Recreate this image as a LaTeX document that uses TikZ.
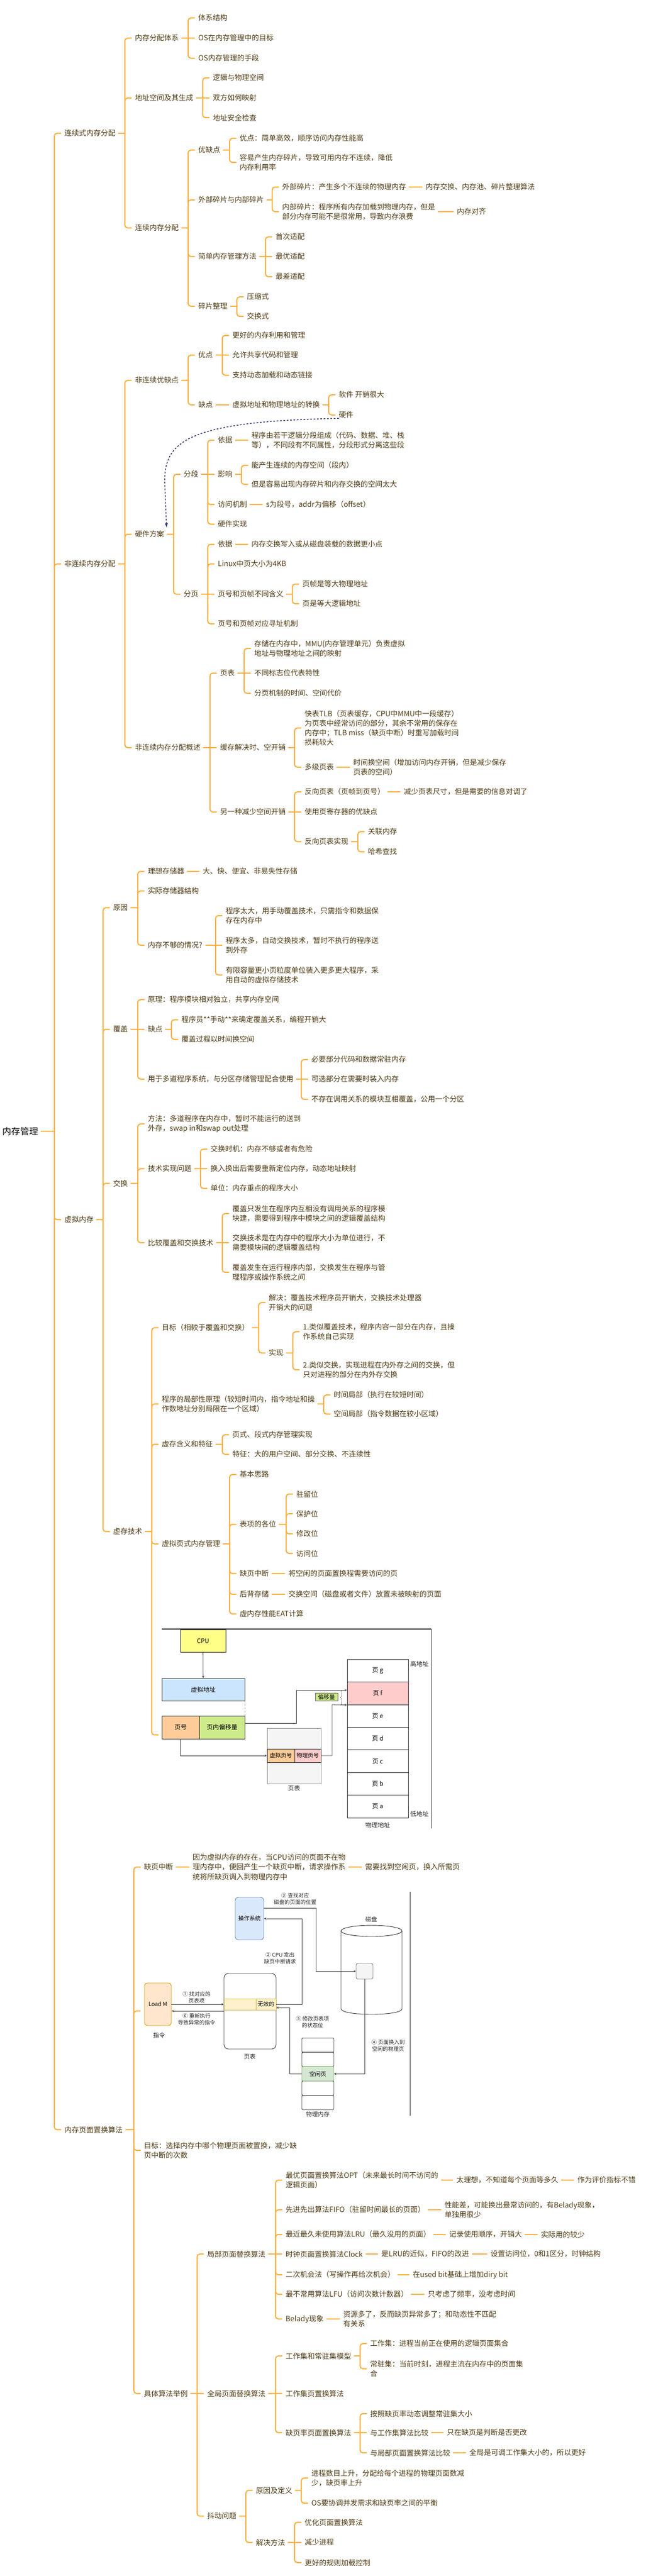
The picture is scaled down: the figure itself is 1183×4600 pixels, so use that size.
\documentclass[tikz,border=0pt]{standalone}
\usepackage{fontspec}
\setmainfont{Noto Sans CJK SC}
\usepackage{tikz}
\usetikzlibrary{calc}
\usetikzlibrary{arrows}
\usetikzlibrary{decorations.pathreplacing}
\definecolor{branch}{RGB}{252, 176, 66}
\definecolor{ink}{RGB}{77, 58, 18}
\definecolor{navy}{RGB}{45, 55, 110}
\definecolor{cpuyellow}{RGB}{255, 255, 136}
\definecolor{addrblue}{RGB}{204, 229, 255}
\definecolor{peach}{RGB}{255, 204, 153}
\definecolor{lime}{RGB}{205, 235, 139}
\definecolor{rose}{RGB}{255, 204, 204}
\definecolor{paper}{RGB}{245, 245, 245}
\definecolor{osblue}{RGB}{218, 232, 252}
\definecolor{osedge}{RGB}{108, 142, 191}
\definecolor{loadfill}{RGB}{255, 230, 204}
\definecolor{loadedge}{RGB}{215, 155, 0}
\definecolor{rowfill}{RGB}{255, 242, 204}
\definecolor{rowedge}{RGB}{214, 182, 86}
\definecolor{freefill}{RGB}{213, 232, 212}
\definecolor{freeedge}{RGB}{130, 179, 102}
\newcommand{\branchto}[2]{%
  \draw[link] ($(#1.east)+(5,0)$) -- ($(#1.east -| #2.west)+(-18,0)$);%
  \draw[link] ($(#1.east -| #2.west)+(-18,0)$) |- ($(#2.west)+(-6,0)$);}
\newcommand{\straightto}[2]{%
  \draw[link] ($(#1.east)+(5,0)$) -- ($(#2.west)+(-6,0)$);}

\begin{document}
\begin{tikzpicture}[x=1pt, y=-1pt,
    topic/.style    ={anchor=west, inner sep=0pt, align=left, text=ink, font=\fontsize{13}{17.3}\selectfont},
    rootnode/.style ={anchor=west, inner sep=0pt, text=black, font=\fontsize{16}{20}\selectfont},
    link/.style     ={draw=branch, line width=2pt, rounded corners=5pt},
    hook/.style     ={inner sep=0pt, minimum size=0pt},
    cell/.style     ={draw=black!80, line width=0.9pt, inner sep=0pt, text=black, font=\fontsize{11}{13}\selectfont},
    smallcell/.style={cell, font=\fontsize{10}{12}\selectfont},
    figtext/.style  ={inner sep=0pt, align=center, text=black!85, font=\fontsize{9.5}{12}\selectfont},
    wire/.style     ={draw=black!75, line width=0.8pt, -stealth},
    hwlink/.style   ={draw=navy, dashed, line width=1.5pt, -latex}]
\fill[white] (0,0) rectangle (1183,4600);
\useasboundingbox (0,0) rectangle (1183,4600);

\node[rootnode] (root) at (  4,2020) {内存管理};
\node[topic]    (c)    at (115, 238) {连续式内存分配};
\node[topic]    (n)    at (115,1007) {非连续内存分配};
\node[topic]    (v)    at (115,2178) {虚拟内存};
\node[topic]    (r)    at (115,3803) {内存页面置换算法};

% continuous allocation
\node[topic] (c1)    at (241,  68) {内存分配体系};
\node[topic] (c11)   at (354,  32) {体系结构};
\node[topic] (c12)   at (354,  68) {OS在内存管理中的目标};
\node[topic] (c13)   at (354, 104) {OS内存管理的手段};
\node[topic] (c2)    at (241, 175) {地址空间及其生成};
\node[topic] (c21)   at (380, 139) {逻辑与物理空间};
\node[topic] (c22)   at (380, 175) {双方如何映射};
\node[topic] (c23)   at (380, 210) {地址安全检查};
\node[topic] (c3)    at (241, 407) {连续内存分配};
\node[topic] (c31)   at (354, 268) {优缺点};
\node[topic] (c311)  at (428, 247) {优点：简单高效，顺序访问内存性能高};
\node[topic] (c312)  at (428, 290) {容易产生内存碎片，导致可用内存不连续，降低\\内存利用率};
\node[topic] (c32)   at (354, 357) {外部碎片与内部碎片};
\node[topic] (c321)  at (504, 334) {外部碎片：产生多个不连续的物理内存};
\node[topic] (c3211) at (760, 334) {内存交换、内存池、碎片整理算法};
\node[topic] (c322)  at (504, 378) {内部碎片：程序所有内存加载到物理内存，但是\\部分内存可能不是很常用，导致内存浪费};
\node[topic] (c3221) at (816, 378) {内存对齐};
\node[topic] (c33)   at (354, 458) {简单内存管理方法};
\node[topic] (c331)  at (492, 423) {首次适配};
\node[topic] (c332)  at (492, 458) {最优适配};
\node[topic] (c333)  at (492, 494) {最差适配};
\node[topic] (c34)   at (354, 547) {碎片整理};
\node[topic] (c341)  at (441, 530) {压缩式};
\node[topic] (c342)  at (441, 565) {交换式};

% non-continuous allocation
\node[topic] (n1)    at (241, 679) {非连续优缺点};
\node[topic] (n11)   at (354, 634) {优点};
\node[topic] (n111)  at (415, 599) {更好的内存利用和管理};
\node[topic] (n112)  at (415, 634) {允许共享代码和管理};
\node[topic] (n113)  at (415, 670) {支持动态加载和动态链接};
\node[topic] (n12)   at (354, 723) {缺点};
\node[topic] (n121)  at (415, 723) {虚拟地址和物理地址的转换};
\node[topic] (n1211) at (605, 705) {软件 开销很大};
\node[topic] (n1212) at (605, 741) {硬件};
\node[topic] (n2)    at (241, 954) {硬件方案};
\node[topic] (n21)   at (328, 847) {分段};
\node[topic] (n211)  at (389, 786) {依据};
\node[topic] (n2111) at (449, 786) {程序由若干逻辑分段组成（代码、数据、堆、栈\\等），不同段有不同属性，分段形式分离这些段};
\node[topic] (n212)  at (389, 847) {影响};
\node[topic] (n2121) at (449, 831) {能产生连续的内存空间（段内）};
\node[topic] (n2122) at (449, 865) {但是容易出现内存碎片和内存交换的空间太大};
\node[topic] (n213)  at (389, 901) {访问机制};
\node[topic] (n2131) at (475, 901) {s为段号，addr为偏移（offset）};
\node[topic] (n214)  at (389, 936) {硬件实现};
\node[topic] (n22)   at (328,1061) {分页};
\node[topic] (n221)  at (389, 972) {依据};
\node[topic] (n2211) at (449, 972) {内存交换写入或从磁盘装载的数据更小点};
\node[topic] (n222)  at (389,1007) {Linux中页大小为4KB};
\node[topic] (n223)  at (389,1061) {页号和页帧不同含义};
\node[topic] (n2231) at (540,1043) {页帧是等大物理地址};
\node[topic] (n2232) at (540,1078) {页是等大逻辑地址};
\node[topic] (n224)  at (389,1114) {页号和页帧对应寻址机制};
\node[topic] (n3)    at (241,1335) {非连续内存分配概述};
\node[topic] (n31)   at (393,1202) {页表};
\node[topic] (n311)  at (454,1158) {存储在内存中，MMU(内存管理单元）负责虚拟\\地址与物理地址之间的映射};
\node[topic] (n312)  at (454,1202) {不同标志位代表特性};
\node[topic] (n313)  at (454,1238) {分页机制的时间、空间代价};
\node[topic] (n32)   at (393,1335) {缓存解决时、空开销};
\node[topic] (n321)  at (544,1300) {快表TLB（页表缓存，CPU中MMU中一段缓存）\\为页表中经常访问的部分，其余不常用的保存在\\内存中；TLB miss（缺页中断）时重写加载时间\\损耗较大};
\node[topic] (n322)  at (544,1370) {多级页表};
\node[topic] (n3221) at (631,1370) {时间换空间（增加访问内存开销，但是减少保存\\页表的空间）};
\node[topic] (n33)   at (393,1450) {另一种减少空间开销};
\node[topic] (n331)  at (544,1414) {反向页表（页帧到页号）};
\node[topic] (n3311) at (721,1414) {减少页表尺寸，但是需要的信息对调了};
\node[topic] (n332)  at (544,1450) {使用页寄存器的优缺点};
\node[topic] (n333)  at (544,1503) {反向页表实现};
\node[topic] (n3331) at (657,1485) {关联内存};
\node[topic] (n3332) at (657,1521) {哈希查找};

% virtual memory
\node[topic] (v1)    at (202,1621) {原因};
\node[topic] (v11)   at (264,1556) {理想存储器};
\node[topic] (v111)  at (362,1556) {大、快、便宜、非易失性存储};
\node[topic] (v12)   at (264,1591) {实际存储器结构};
\node[topic] (v13)   at (264,1688) {内存不够的情况?};
\node[topic] (v131)  at (403,1635) {程序太大，用手动覆盖技术，只需指令和数据保\\存在内存中};
\node[topic] (v132)  at (403,1688) {程序太多，自动交换技术，暂时不执行的程序送\\到外存};
\node[topic] (v133)  at (403,1741) {有限容量更小页粒度单位装入更多更大程序，采\\用自动的虚拟存储技术};
\node[topic] (v2)    at (202,1838) {覆盖};
\node[topic] (v21)   at (264,1785) {原理：程序模块相对独立，共享内存空间};
\node[topic] (v22)   at (264,1838) {缺点};
\node[topic] (v221)  at (324,1821) {程序员**手动**来确定覆盖关系，编程开销大};
\node[topic] (v222)  at (324,1856) {覆盖过程以时间换空间};
\node[topic] (v23)   at (264,1927) {用于多道程序系统，与分区存储管理配合使用};
\node[topic] (v231)  at (556,1892) {必要部分代码和数据常驻内存};
\node[topic] (v232)  at (556,1927) {可选部分在需要时装入内存};
\node[topic] (v233)  at (556,1963) {不存在调用关系的模块互相覆盖，公用一个分区};
\node[topic] (v3)    at (202,2113) {交换};
\node[topic] (v31)   at (264,2007) {方法：多道程序在内存中，暂时不能运行的送到\\外存，swap in和swap out处理};
\node[topic] (v32)   at (264,2087) {技术实现问题};
\node[topic] (v321)  at (376,2052) {交换时机：内存不够或者有危险};
\node[topic] (v322)  at (376,2087) {换入换出后需要重新定位内存，动态地址映射};
\node[topic] (v323)  at (376,2122) {单位：内存重点的程序大小};
\node[topic] (v33)   at (264,2219) {比较覆盖和交换技术};
\node[topic] (v331)  at (415,2167) {覆盖只发生在程序内互相没有调用关系的程序模\\块建，需要得到程序中模块之间的逻辑覆盖结构};
\node[topic] (v332)  at (415,2219) {交换技术是在内存中的程序大小为单位进行，不\\需要模块间的逻辑覆盖结构};
\node[topic] (v333)  at (415,2272) {覆盖发生在运行程序内部，交换发生在程序与管\\理程序或操作系统之间};
\node[topic] (v4)    at (202,2735) {虚存技术};
\node[topic] (v41)   at (289,2371) {目标（相较于覆盖和交换）};
\node[topic] (v411)  at (480,2326) {解决：覆盖技术程序员开销大，交换技术处理器\\开销大的问题};
\node[topic] (v412)  at (480,2416) {实现};
\node[topic] (v4121) at (541,2378) {1.类似覆盖技术，程序内容一部分在内存，且操\\作系统自己实现};
\node[topic] (v4122) at (541,2446) {2.类似交换，实现进程在内外存之间的交换，但\\只对进程的部分在内外存交换};
\node[topic] (v42)   at (289,2507) {程序的局部性原理（较短时间内，指令地址和操\\作数地址分别局限在一个区域）};
\node[topic] (v421)  at (596,2491) {时间局部（执行在较短时间）};
\node[topic] (v422)  at (596,2525) {空间局部（指令数据在较小区域）};
\node[topic] (v43)   at (289,2579) {虚存含义和特征};
\node[topic] (v431)  at (415,2562) {页式、段式内存管理实现};
\node[topic] (v432)  at (415,2597) {特征：大的用户空间、部分交换、不连续性};
\node[topic] (v44)   at (289,2757) {虚拟页式内存管理};
\node[topic] (v441)  at (428,2633) {基本思路};
\node[topic] (v442)  at (428,2722) {表项的各位};
\node[topic] (v4421) at (529,2668) {驻留位};
\node[topic] (v4422) at (529,2703) {保护位};
\node[topic] (v4423) at (529,2739) {修改位};
\node[topic] (v4424) at (529,2774) {访问位};
\node[topic] (v443)  at (428,2810) {缺页中断};
\node[topic] (v4431) at (515,2810) {将空闲的页面置换程需要访问的页};
\node[topic] (v444)  at (428,2847) {后背存储};
\node[topic] (v4441) at (515,2847) {交换空间（磁盘或者文件）放置未被映射的页面};
\node[topic] (v445)  at (428,2882) {虚内存性能EAT计算};
\node[hook]  (pagefig) at (289,3098) {};

% page replacement
\node[topic] (r1)     at (257,3334) {缺页中断};
\node[topic] (r11)    at (344,3334) {因为虚拟内存的存在，当CPU访问的页面不在物\\理内存中，便回产生一个缺页中断，请求操作系\\统将所缺页调入到物理内存中};
\node[topic] (r111)   at (652,3334) {需要找到空闲页，换入所需页};
\node[hook]  (faultfig) at (257,3591) {};
\node[topic] (r2)     at (257,3840) {目标：选择内存中哪个物理页面被置换，减少缺\\页中断的次数};
\node[topic] (r3)     at (257,4274) {具体算法举例};
\node[topic] (r31)    at (370,4025) {局部页面替换算法};
\node[topic] (r311)   at (510,3893) {最优页面置换算法OPT（未来最长时间不访问的\\逻辑页面）};
\node[topic] (r3111)  at (815,3893) {太理想，不知道每个页面等多久};
\node[topic] (r31111) at (1031,3893) {作为评价指标不错};
\node[topic] (r312)   at (510,3946) {先进先出算法FIFO（驻留时间最长的页面）};
\node[topic] (r3121)  at (794,3946) {性能差，可能换出最常访问的，有Belady现象，\\单独用很少};
\node[topic] (r313)   at (510,3990) {最近最久未使用算法LRU（最久没用的页面）};
\node[topic] (r3131)  at (802,3990) {记录使用顺序，开销大};
\node[topic] (r31311) at (966,3990) {实际用的较少};
\node[topic] (r314)   at (510,4025) {时钟页面置换算法Clock};
\node[topic] (r3141)  at (681,4025) {是LRU的近似，FIFO的改进};
\node[topic] (r31411) at (876,4025) {设置访问位，0和1区分，时钟结构};
\node[topic] (r315)   at (510,4062) {二次机会法（写操作再给次机会）};
\node[topic] (r3151)  at (737,4062) {在used bit基础上增加diry bit};
\node[topic] (r316)   at (510,4097) {最不常用算法LFU（访问次数计数器）};
\node[topic] (r3161)  at (764,4097) {只考虑了频率，没考虑时间};
\node[topic] (r317)   at (510,4141) {Belady现象};
\node[topic] (r3171)  at (613,4141) {资源多了，反而缺页异常多了；和动态性不匹配\\有关系};
\node[topic] (r32)    at (370,4274) {全局页面替换算法};
\node[topic] (r321)   at (510,4207) {工作集和常驻集模型};
\node[topic] (r3211)  at (661,4185) {工作集：进程当前正在使用的逻辑页面集合};
\node[topic] (r3212)  at (661,4230) {常驻集：当前时刻，进程主流在内存中的页面集\\合};
\node[topic] (r322)   at (510,4274) {工作集页置换算法};
\node[topic] (r323)   at (510,4344) {缺页率页面置换算法};
\node[topic] (r3231)  at (661,4310) {按照缺页率动态调整常驻集大小};
\node[topic] (r3232)  at (661,4344) {与工作集算法比较};
\node[topic] (r32321) at (798,4344) {只在缺页是判断是否更改};
\node[topic] (r3233)  at (661,4380) {与局部页面置换算法比较};
\node[topic] (r32331) at (838,4380) {全局是可调工作集大小的，所以更好};
\node[topic] (r33)    at (370,4493) {抖动问题};
\node[topic] (r331)   at (457,4447) {原因及定义};
\node[topic] (r3311)  at (556,4425) {进程数目上升，分配给每个进程的物理页面数减\\少，缺页率上升};
\node[topic] (r3312)  at (556,4470) {OS要协调并发需求和缺页率之间的平衡};
\node[topic] (r332)   at (457,4540) {解决方法};
\node[topic] (r3321)  at (544,4504) {优化页面置换算法};
\node[topic] (r3322)  at (544,4540) {减少进程};
\node[topic] (r3323)  at (544,4576) {更好的规则加载控制};

% branches
\foreach \p/\c in {root/c, root/n, root/v, root/r,
                   c/c1, c/c2, c/c3, c1/c11, c1/c13, c2/c21, c2/c23,
                   c3/c31, c3/c32, c3/c33, c3/c34, c31/c311, c31/c312, c32/c321, c32/c322,
                   c33/c331, c33/c333, c34/c341, c34/c342,
                   n/n1, n/n2, n/n3, n1/n11, n1/n12, n11/n111, n11/n113, n121/n1211, n121/n1212,
                   n2/n21, n2/n22, n21/n211, n21/n213, n21/n214, n212/n2121, n212/n2122,
                   n22/n221, n22/n222, n22/n224, n223/n2231, n223/n2232,
                   n3/n31, n3/n33, n31/n311, n31/n313, n32/n321, n32/n322, n33/n331, n33/n333,
                   n333/n3331, n333/n3332,
                   v/v1, v/v2, v/v3, v/v4, v1/v11, v1/v12, v1/v13, v13/v131, v13/v133,
                   v2/v21, v2/v23, v22/v221, v22/v222, v23/v231, v23/v233,
                   v3/v31, v3/v32, v3/v33, v32/v321, v32/v323, v33/v331, v33/v333,
                   v4/v41, v4/v42, v4/v43, v4/v44, v4/pagefig, v41/v411, v41/v412, v412/v4121, v412/v4122,
                   v42/v421, v42/v422, v43/v431, v43/v432, v44/v441, v44/v442, v44/v443, v44/v444, v44/v445,
                   v442/v4421, v442/v4422, v442/v4423, v442/v4424,
                   r/r1, r/faultfig, r/r2, r/r3, r3/r31, r3/r33,
                   r31/r311, r31/r312, r31/r313, r31/r315, r31/r316, r31/r317,
                   r32/r321, r32/r323, r321/r3211, r321/r3212, r323/r3231, r323/r3233,
                   r33/r331, r33/r332, r331/r3311, r331/r3312, r332/r3321, r332/r3323}
  \branchto{\p}{\c};
\foreach \p/\c in {c1/c12, c2/c22, c321/c3211, c322/c3221, c33/c332,
                   n11/n112, n12/n121, n21/n212, n211/n2111, n213/n2131, n22/n223, n221/n2211,
                   n31/n312, n3/n32, n322/n3221, n33/n332, n331/n3311,
                   v11/v111, v13/v132, v2/v22, v23/v232, v32/v322, v33/v332,
                   v443/v4431, v444/v4441,
                   r1/r11, r11/r111, r3/r32, r31/r314, r311/r3111, r3111/r31111, r312/r3121,
                   r313/r3131, r3131/r31311, r314/r3141, r3141/r31411, r315/r3151, r316/r3161,
                   r317/r3171, r32/r322, r323/r3232, r3232/r32321, r3233/r32331, r332/r3322}
  \straightto{\p}{\c};
\draw[hwlink] (n1212.south west) .. controls (330,752) and (294,790) .. (294,860) -- ($(n2.north east)+(4,-6)$);

% page table figure
\draw[black!80, line width=2.5pt] (289,2909) -- (770,2909);
\draw[black!70, line width=1pt]   (770,2909) -- (770,3265);
\node[cell, fill=cpuyellow, minimum width=81pt,  minimum height=40pt] (cpu)   at (362.5,2930)   {CPU};
\node[cell, fill=addrblue,  minimum width=148pt, minimum height=40pt] (vaddr) at (363,3017)     {虚拟地址};
\node[cell, fill=peach,     minimum width=67pt,  minimum height=41pt] (pno)   at (322.5,3084.5) {页号};
\node[cell, fill=lime,      minimum width=81pt,  minimum height=41pt] (poff)  at (396.5,3084.5) {页内偏移量};
\node[cell, draw=black!45, fill=paper, minimum width=96pt, minimum height=99pt] (ptab) at (525,3135.5) {};
\node[smallcell, fill=peach, minimum width=49pt, minimum height=24pt] (vpn) at (501.5,3135) {虚拟页号};
\node[smallcell, fill=rose,  minimum width=47pt, minimum height=24pt] (ppn) at (549.5,3135) {物理页号};
\foreach \nm/\shade [count=\i from 0] in {g/white, f/rose, e/white, d/white, c/white, b/white, a/white}
  \node[cell, fill=\shade, minimum width=109pt, minimum height=40.4pt] (page\nm) at (674.5,{2983.5+40.4*\i}) {页 \nm};
\node[cell, draw=black!60, line width=0.5pt, fill=lime, minimum width=40pt, minimum height=14pt,
      font=\fontsize{10}{12}\selectfont] (offlbl) at (583,3030.5) {偏移量};
\draw[black!80, decorate, decoration={brace, amplitude=3pt}] (611,3044) -- (611,3018);
\node[figtext, font=\fontsize{11}{13}\selectfont] (hiaddr)  at (749,2971)   {高地址};
\node[figtext, font=\fontsize{11}{13}\selectfont] (loaddr)  at (749,3239)   {低地址};
\node[figtext, font=\fontsize{11}{13}\selectfont] (physlbl) at (674.5,3259) {物理地址};
\node[figtext, font=\fontsize{11}{13}\selectfont] (ptablbl) at (525,3193)   {页表};
\draw[wire] (cpu) -- (vaddr);
\draw[black!45, dashed] (vaddr.south east) -- (poff.north east);
\coordinate (offbend) at (529,3018);
\draw[wire] (poff.east |- 0,3077) -| (offbend) -- (offbend -| pagef.west);
\draw[wire] (pno.south) |- (vpn.west);
\coordinate (ppnbend) at (593,3044);
\draw[wire] (ppn.east) -| (ppnbend) -- (pagef.south west);

% page fault figure
\draw[black!80, line width=1pt] (732,3378) -- (732,3778);
\node[smallcell, draw=osedge, fill=osblue, rounded corners=6pt, minimum width=51pt, minimum height=76pt] (os) at (445.5,3426) {操作系统};
\node[figtext] (step3) at (527,3391) {③ 查找对应\\磁盘的页面的位置};
\node[figtext, font=\fontsize{10.5}{12}\selectfont] (disklbl) at (663,3427) {磁盘};
\filldraw[fill=white, draw=black!80, line width=0.9pt] (609,3448) -- (609,3587) .. controls (609,3600.3) and (718,3600.3) .. (718,3587) -- (718,3448);
\draw[black!80, line width=0.9pt] (663.5,3448) ellipse [x radius=54.5, y radius=10];
\node[smallcell, draw=black!50, fill=paper, rounded corners=3pt, minimum width=30pt, minimum height=28pt] (dbox) at (651,3520) {};
\node[smallcell, draw=loadedge, fill=loadfill, rounded corners=5pt, minimum width=48pt, minimum height=76pt] (loadm) at (282,3579) {Load M};
\node[figtext, font=\fontsize{10.5}{12}\selectfont] (instr) at (284,3634) {指令};
\node[smallcell, fill=white, rounded corners=8pt, minimum width=93pt, minimum height=135pt] (ptab2) at (446.5,3591.5) {};
\node[figtext, font=\fontsize{10.5}{12}\selectfont] (ptab2lbl) at (446,3672) {页表};
\node[smallcell, draw=rowedge, fill=rowfill, minimum width=57pt, minimum height=20pt] (pte)     at (428.5,3579) {};
\node[smallcell, draw=rowedge, fill=rowfill, minimum width=36pt, minimum height=20pt] (invalid) at (475,3579)   {无效的};
\foreach \i in {0,1,3,4}
  \node[smallcell, fill=white, rounded corners=2pt, minimum width=57pt, minimum height=25.6pt] (mem\i) at (567.5,{3652+25.6*\i}) {};
\node[smallcell, draw=freeedge, fill=freefill, rounded corners=2pt, minimum width=57pt, minimum height=25.6pt] (free) at (567.5,3703.2) {空闲页};
\node[figtext, font=\fontsize{10.5}{12}\selectfont] (memlbl) at (567.5,3775) {物理内存};
\draw[wire] (loadm.east) -- (pte.west);
\node[figtext] (step1) at (351,3567) {① 找对应的\\页表项};
\draw[wire] (ptab2.west |- 0,3591) -- (loadm.east |- 0,3591);
\node[figtext] (step6) at (351,3606) {⑥ 重新执行\\导致异常的指令};
\coordinate (cpubend) at (539,3426);
\draw[wire] (invalid.east) -| (cpubend) -- (os.east |- cpubend);
\node[figtext] (step2) at (500,3497) {② CPU 发出\\缺页中断请求};
\coordinate (diskbend) at (564,3407);
\draw[wire] (os.east |- diskbend) -- (diskbend) |- (dbox.west);
\draw[wire] (dbox.south) |- (free.east);
\node[figtext] (step4) at (693,3653) {④ 页面换入到\\空闲的物理页};
\coordinate (statbend) at (517,3585);
\draw[wire] (free.west) -| (statbend) -- (statbend -| invalid.east);
\node[figtext] (step5) at (558,3611) {⑤ 修改页表项\\的状态位};
\end{tikzpicture}
\end{document}
